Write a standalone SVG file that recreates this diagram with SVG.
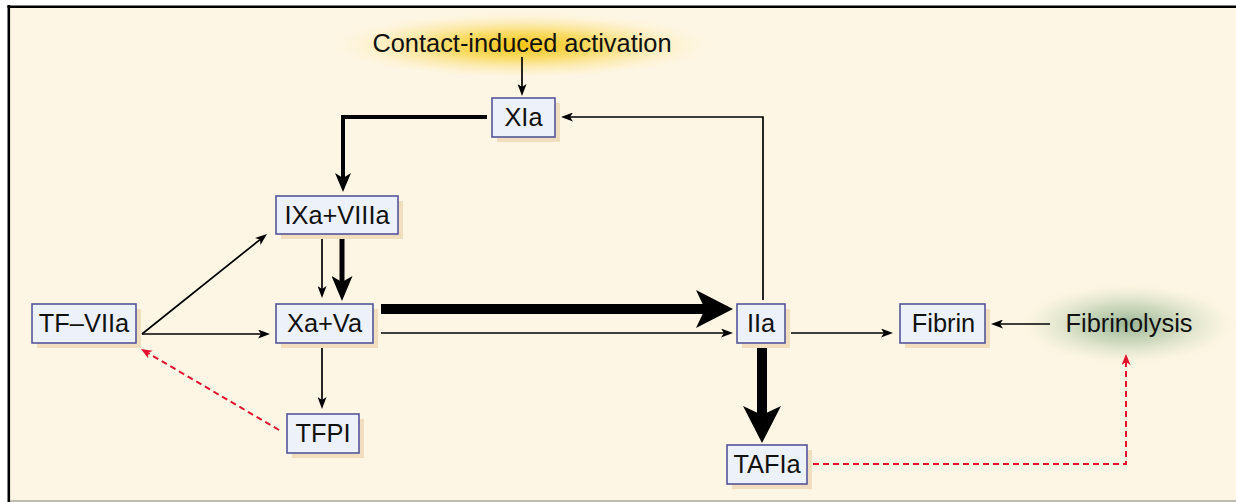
<svg xmlns="http://www.w3.org/2000/svg" width="1236" height="502" viewBox="0 0 1236 502">
<defs>
<style>
.box{fill:#EDF1FA;stroke:#55559A;stroke-width:1.6}
.sh{fill:#F1DEBE}
.t{font-family:"Liberation Sans",Arial,sans-serif;font-size:25.4px;fill:#111;text-anchor:middle}
.c{fill:none;stroke:#000}
.thin{stroke-width:1.7;marker-end:url(#mThin)}
.red{fill:none;stroke:#E3122F;stroke-width:2;stroke-dasharray:6 4;marker-end:url(#mRed)}
</style>
<radialGradient id="gY" cx="0.5" cy="0.55" r="0.5">
<stop offset="0" stop-color="#F6C410" stop-opacity="1"/>
<stop offset="0.4" stop-color="#F8D444" stop-opacity="0.75"/>
<stop offset="0.75" stop-color="#FBE7A0" stop-opacity="0.4"/>
<stop offset="1" stop-color="#FEF6E4" stop-opacity="0"/>
</radialGradient>
<radialGradient id="gG" cx="0.5" cy="0.5" r="0.5">
<stop offset="0" stop-color="#99B595" stop-opacity="1"/>
<stop offset="0.45" stop-color="#BACDAE" stop-opacity="0.7"/>
<stop offset="0.8" stop-color="#E0E6CC" stop-opacity="0.35"/>
<stop offset="1" stop-color="#FEF6E4" stop-opacity="0"/>
</radialGradient>
<marker id="mThin" markerUnits="userSpaceOnUse" markerWidth="12" markerHeight="9" refX="3" refY="4.5" orient="auto"><path d="M0,0 L12,4.5 L0,9 L3,4.5 z" fill="#000"/></marker>
<marker id="mMed" markerUnits="userSpaceOnUse" markerWidth="19" markerHeight="16" refX="5" refY="8" orient="auto"><path d="M0,0 L19,8 L0,16 L5,8 z" fill="#000"/></marker>
<marker id="mThick" markerUnits="userSpaceOnUse" markerWidth="25" markerHeight="21" refX="6" refY="10.5" orient="auto"><path d="M0,0 L25,10.5 L0,21 L6,10.5 z" fill="#000"/></marker>
<marker id="mBig" markerUnits="userSpaceOnUse" markerWidth="37" markerHeight="38" refX="9" refY="19" orient="auto"><path d="M0,0 L37,19 L0,38 L9,19 z" fill="#000"/></marker>
<marker id="mRed" markerUnits="userSpaceOnUse" markerWidth="11" markerHeight="9" refX="3" refY="4.5" orient="auto"><path d="M0,0 L11,4.5 L0,9 L3,4.5 z" fill="#E3122F"/></marker>
</defs>
<rect x="0" y="0" width="1236" height="502" fill="#FFFFFF"/>
<rect x="9" y="6" width="1227" height="494" fill="#FEF6E4"/>
<line x1="8.8" y1="5" x2="8.8" y2="502" stroke="#000" stroke-width="2.6"/>
<line x1="7.5" y1="6.7" x2="1236" y2="6.7" stroke="#000" stroke-width="2.4"/>
<line x1="10" y1="501" x2="1236" y2="501" stroke="#BEBAB2" stroke-width="2"/>

<g id="contact">
<ellipse cx="522" cy="42" rx="195" ry="34" fill="url(#gY)"/>
<text class="t" x="522" y="52">Contact-induced activation</text>
</g>
<g id="fibrinolysis">
<ellipse cx="1128" cy="324" rx="112" ry="42" fill="url(#gG)"/>
<text class="t" x="1129" y="332">Fibrinolysis</text>
</g>

<g id="connectors">
<path class="c thin" d="M522,57 V87"/>
<path class="c" d="M487,117 H343 V178" stroke-width="4" marker-end="url(#mMed)"/>
<path class="c thin" d="M763,300 V117 H570"/>
<path class="c thin" d="M142,334 L260,239.6"/>
<path class="c thin" d="M142,334 H261"/>
<path class="c thin" d="M322,238 V289"/>
<path class="c" d="M342,238 V282" stroke-width="5" marker-end="url(#mThick)"/>
<path class="c thin" d="M322,348 V400"/>
<path class="red" d="M279,430 L147.9,353"/>
<path class="c" d="M381,309 H705" stroke-width="10" marker-end="url(#mBig)"/>
<path class="c thin" d="M381,333 H724"/>
<path class="c thin" d="M791,333 H884"/>
<path class="c thin" d="M1050,324 H1000"/>
<path class="c" d="M762,346 V415" stroke-width="10" marker-end="url(#mBig)"/>
<path class="red" d="M813,464 H1126 V362"/>
</g>

<g id="XIa">
<rect class="sh" x="497" y="103" width="63" height="39"/>
<rect class="box" x="492" y="98" width="63" height="39"/>
<text class="t" x="523.5" y="126">XIa</text>
</g>
<g id="IXa_VIIIa">
<rect class="sh" x="281" y="201" width="122" height="38"/>
<rect class="box" x="276" y="196" width="122" height="38"/>
<text class="t" x="337" y="224">IXa+VIIIa</text>
</g>
<g id="TF_VIIa">
<rect class="sh" x="37" y="309" width="104" height="39"/>
<rect class="box" x="32" y="304" width="104" height="39"/>
<text class="t" x="84" y="332">TF–VIIa</text>
</g>
<g id="Xa_Va">
<rect class="sh" x="281" y="309" width="97" height="39"/>
<rect class="box" x="276" y="304" width="97" height="39"/>
<text class="t" x="324.5" y="332">Xa+Va</text>
</g>
<g id="TFPI">
<rect class="sh" x="292" y="419" width="72" height="39"/>
<rect class="box" x="287" y="414" width="72" height="39"/>
<text class="t" x="323" y="442">TFPI</text>
</g>
<g id="IIa">
<rect class="sh" x="742" y="309" width="48" height="39"/>
<rect class="box" x="737" y="304" width="48" height="39"/>
<text class="t" x="761" y="332">IIa</text>
</g>
<g id="Fibrin">
<rect class="sh" x="905" y="309" width="85" height="39"/>
<rect class="box" x="900" y="304" width="85" height="39"/>
<text class="t" x="943.5" y="332">Fibrin</text>
</g>
<g id="TAFIa">
<rect class="sh" x="732" y="450" width="80" height="39"/>
<rect class="box" x="727" y="445" width="80" height="39"/>
<text class="t" x="767" y="473">TAFIa</text>
</g>
</svg>
